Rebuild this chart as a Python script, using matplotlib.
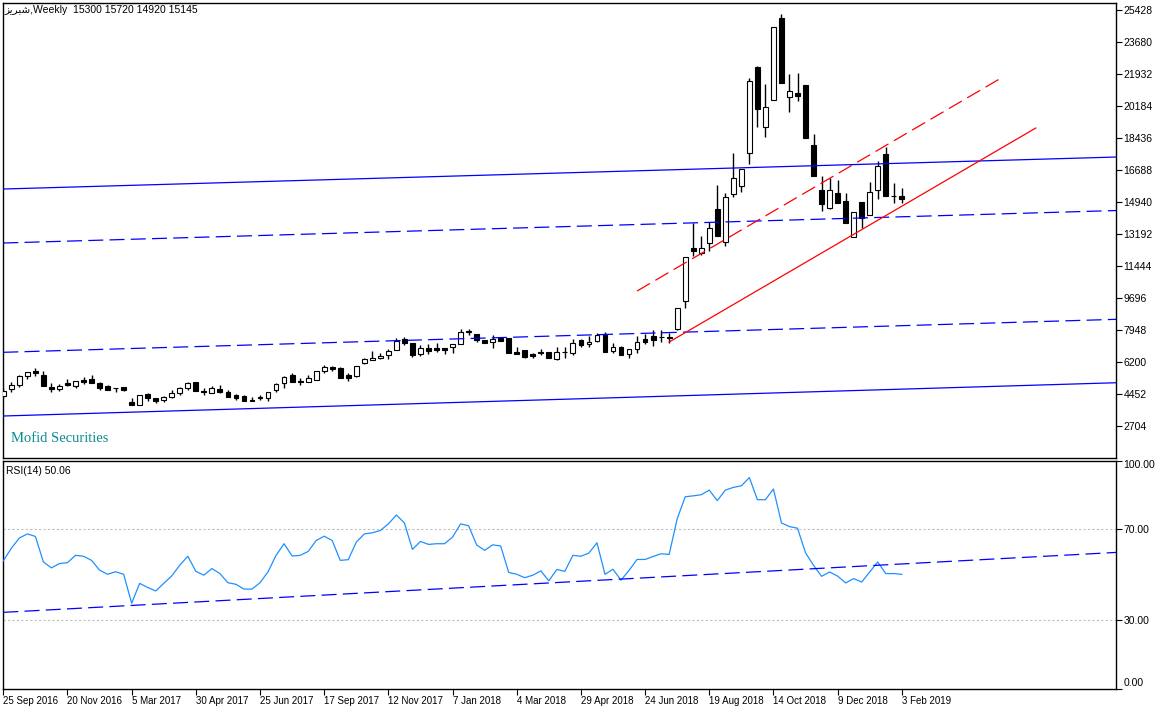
import matplotlib
matplotlib.use("Agg")
import matplotlib.pyplot as plt

# weekly candles (bar 0 = 25 Sep 2016)
opens = [4378, 4727, 4962, 5453, 5727, 5508, 4836, 4727, 5088, 4924,
         5235, 5290, 5088, 4907, 4814, 4836, 4050, 3870, 4470, 4268,
         4143, 4323, 4509, 4782, 5109, 4618, 4509, 4743, 4563, 4416,
         4378, 4126, 4323, 4268, 4689, 5055, 5508, 5164, 5142, 5235,
         5743, 5962, 5907, 5508, 5453, 6180, 6327, 6420, 6601, 6874,
         7458, 7240, 6655, 6966, 6999, 6999, 7054, 7201, 7895, 7731,
         7420, 7327, 7513, 7513, 6781, 6874, 6655, 6764, 6748, 6388,
         6792, 6693, 7420, 7185, 7382, 7731, 6803, 7060, 6639, 6912,
         7474, 7638, 7611, 7578, 8021, 9566, 12429, 12156, 12702, 14559,
         12756, 15394, 15831, 17617, 22315, 19070, 20529, 24991, 20676, 20895,
         21348, 18071, 15613, 14613, 15465, 15012, 13062, 14941, 14247, 15613,
         17563, 15312, 15300]
highs = [4798, 5109, 5508, 5688, 5874, 5727, 5055, 5033, 5290, 5180,
         5382, 5508, 5142, 4935, 4825, 4869, 4235, 4416, 4509, 4268,
         4378, 4689, 4869, 5142, 5142, 4782, 4907, 4962, 4689, 4454,
         4389, 4323, 4416, 4563, 5071, 5470, 5601, 5328, 5508, 5727,
         6054, 6000, 5945, 5601, 6027, 6437, 6835, 6693, 6928, 7523,
         7567, 7256, 7147, 7185, 7273, 7010, 7185, 8004, 8004, 7747,
         7431, 7693, 7529, 7529, 7054, 6885, 6726, 6928, 6764, 7021,
         7054, 7458, 7458, 7638, 7786, 7873, 7240, 7076, 6928, 7638,
         7747, 7966, 7966, 7818, 9151, 11937, 13794, 13100, 13849, 15886,
         15465, 17617, 16760, 21714, 22386, 21403, 24516, 25226, 21932, 22020,
         21359, 18671, 16394, 16252, 16159, 15465, 14395, 14958, 16034, 17213,
         17945, 16012, 15720]
lows = [4268, 4596, 4869, 5290, 5470, 4924, 4563, 4634, 4924, 4782,
        5000, 5055, 4672, 4662, 4596, 4651, 3870, 3853, 4104, 3962,
        4050, 4235, 4416, 4689, 4651, 4416, 4498, 4509, 4323, 4143,
        4088, 4088, 4143, 4088, 4580, 4814, 5109, 4962, 5109, 5224,
        5634, 5743, 5328, 5197, 5399, 6093, 6316, 6388, 6388, 6863,
        7147, 6508, 6546, 6655, 6781, 6639, 6693, 7191, 7693, 7327,
        7229, 6966, 7382, 6693, 6644, 6453, 6453, 6601, 6453, 6327,
        6420, 6601, 7054, 7054, 7294, 6781, 6726, 6601, 6453, 6726,
        7201, 7109, 7327, 7240, 7966, 9195, 12008, 12063, 12298, 13117,
        12570, 15214, 15520, 17016, 19037, 18524, 20518, 21441, 19889, 20490,
        18437, 16394, 14482, 14602, 14886, 13794, 13051, 13521, 14236, 15105,
        15302, 14886, 14920]
closes = [4634, 4962, 5453, 5656, 5601, 4924, 4727, 4907, 4962, 5180,
          5142, 5055, 4814, 4689, 4804, 4689, 3870, 4416, 4235, 4088,
          4290, 4541, 4782, 5055, 4651, 4580, 4814, 4563, 4323, 4268,
          4088, 4115, 4235, 4563, 5000, 5415, 5109, 5126, 5328, 5727,
          5962, 5819, 5328, 5328, 5999, 6388, 6453, 6546, 6835, 7382,
          7240, 6601, 6966, 6835, 6874, 6874, 7185, 7873, 7857, 7420,
          7240, 7458, 7382, 6693, 6655, 6508, 6546, 6732, 6453, 6748,
          6764, 7240, 7147, 7311, 7676, 6781, 7021, 6601, 6928, 7327,
          7327, 7420, 7589, 7556, 9151, 11937, 12298, 12429, 13521, 13117,
          15247, 16252, 16743, 21566, 20021, 20130, 24500, 21441, 21020, 20763,
          18437, 16394, 14832, 15613, 14886, 13794, 14395, 14067, 15487, 16924,
          15302, 15291, 15145]

rsi = [56.0, 61.5, 66.0, 67.8, 66.7, 55.5, 52.9, 54.8, 55.2, 58.4,
       58.0, 56.2, 51.9, 50.1, 51.2, 50.1, 37.4, 46.1, 44.3, 42.8,
       46.1, 49.4, 54.1, 58.0, 51.4, 49.7, 52.6, 50.4, 46.4, 45.7,
       43.6, 43.6, 46.4, 51.2, 58.4, 63.5, 58.1, 58.4, 60.1, 64.9,
       66.8, 64.9, 56.2, 56.5, 64.2, 67.8, 68.3, 69.3, 72.2, 76.1,
       72.6, 61.0, 64.5, 63.2, 63.5, 63.5, 66.4, 72.2, 71.4, 63.0,
       60.6, 63.0, 62.5, 50.9, 50.1, 48.6, 49.7, 51.6, 47.2, 52.2,
       51.4, 58.4, 58.0, 59.4, 63.9, 50.1, 52.3, 47.5, 51.8, 56.6,
       56.6, 57.9, 59.1, 58.8, 74.4, 84.1, 84.5, 85.0, 87.0, 82.4,
       87.0, 88.2, 88.9, 92.5, 82.8, 82.8, 87.5, 72.6, 71.0, 70.3,
       59.5, 54.0, 49.2, 51.1, 49.3, 46.3, 48.2, 46.7, 51.1, 55.5,
       50.4, 50.4, 50.06]

date_labels = ['25 Sep 2016', '20 Nov 2016', '5 Mar 2017', '30 Apr 2017',
               '25 Jun 2017', '17 Sep 2017', '12 Nov 2017', '7 Jan 2018',
               '4 Mar 2018', '29 Apr 2018', '24 Jun 2018', '19 Aug 2018',
               '14 Oct 2018', '9 Dec 2018', '3 Feb 2019']
price_ticks = [25428, 23680, 21932, 20184, 18436, 16688, 14940,
               13192, 11444, 9696, 7948, 6200, 4452, 2704]
rsi_ticks = [0, 30, 70, 100]

# hand drawn objects: (bar, price) pairs
channel_solid = [((0.0, 15667), (138.8, 17415)), ((0.0, 3269), (138.8, 5087))]
channel_dash = [((0.0, 12718), (138.8, 14493)), ((0.0, 6748), (138.8, 8550))]
red_solid = ((83.0, 7310), (128.7, 18999))
red_dash = ((79.0, 10096), (124.6, 21785))
rsi_trend = ((0.0, 33.4), (138.8, 59.7))

plt.rcParams['font.family'] = ['Liberation Sans', 'DejaVu Sans']
plt.rcParams['font.size'] = 7

W, H = 1165, 709
fig = plt.figure(figsize=(W / 100, H / 100), dpi=100)
ax = fig.add_axes([2.5 / W, 1 - 458 / H, (1116 - 2.5) / W, (458 - 3) / H])
ax2 = fig.add_axes([2.5 / W, 1 - 688.5 / H, (1116 - 2.5) / W, (688.5 - 460.5) / H])

n = len(closes)
bars = list(range(n))

# candles
ax.vlines(bars, lows, highs, color='black', linewidth=1, zorder=2)
bottoms = [min(o, c) for o, c in zip(opens, closes)]
heights = [abs(c - o) for o, c in zip(opens, closes)]
colors = ['white' if c >= o else 'black' for o, c in zip(opens, closes)]
ax.bar(bars, heights, bottom=bottoms, width=0.6, color=colors,
       edgecolor='black', linewidth=0.8, zorder=3)

dash = (0, (12, 5))
for p1, p2 in channel_solid:
    ax.plot([p1[0], p2[0]], [p1[1], p2[1]], color='#0000ff', lw=0.9, zorder=4)
for p1, p2 in channel_dash:
    ax.plot([p1[0], p2[0]], [p1[1], p2[1]], color='#0000ff', lw=0.9,
            linestyle=dash, zorder=4)
ax.plot([red_solid[0][0], red_solid[1][0]], [red_solid[0][1], red_solid[1][1]],
        color='red', lw=0.9, zorder=4)
ax.plot([red_dash[0][0], red_dash[1][0]], [red_dash[0][1], red_dash[1][1]],
        color='red', lw=0.9, linestyle=dash, zorder=4)

ax.set_xlim(-0.1, 138.7)
ax.set_ylim(975, 25827)
ax.set_xticks([])
ax.yaxis.tick_right()
ax.set_yticks(price_ticks)
ax.set_yticklabels([str(t) for t in price_ticks], fontsize=7.5)
ax.tick_params(axis='y', direction='out', length=4, pad=1.5, width=0.8)

name = '\uFEB0\uFBFE\uFEAE\uFE92\uFEB7'  # شبریز in display order
ax.text(0.002, 0.995, name + ',Weekly  15300 15720 14920 15145',
        transform=ax.transAxes, ha='left', va='top', fontsize=7.5,
        family=['Liberation Sans', 'DejaVu Sans'])
ax.text(0.008, 0.043, 'Mofid Securities', transform=ax.transAxes,
        ha='left', va='center', fontsize=10.5, color='#0a8c8f',
        family='Liberation Serif')

# RSI pane
ax2.plot(bars, rsi, color='#1e90ff', lw=0.9, zorder=3)
ax2.axhline(70, color='#c0c0c0', lw=0.8, linestyle=(0, (2, 2)), zorder=1)
ax2.axhline(30, color='#c0c0c0', lw=0.8, linestyle=(0, (2, 2)), zorder=1)
ax2.plot([rsi_trend[0][0], rsi_trend[1][0]], [rsi_trend[0][1], rsi_trend[1][1]],
         color='#0000ff', lw=0.9, linestyle=dash, zorder=4)
ax2.set_xlim(-0.1, 138.7)
ax2.set_ylim(0, 100)
ax2.yaxis.tick_right()
ax2.set_yticks(rsi_ticks)
ax2.set_yticklabels(['%.2f' % t for t in rsi_ticks], fontsize=7.5)
ax2.tick_params(axis='y', direction='out', length=4, pad=1.5, width=0.8)
labs = ax2.get_yticklabels()
labs[0].set_va('bottom')
labs[-1].set_va('top')
ax2.set_xticks(list(range(0, n, 8)))
ax2.set_xticklabels(date_labels, ha='left')
ax2.tick_params(axis='x', direction='out', length=4, pad=1.5, width=0.8)
ax2.text(0.003, 0.975, 'RSI(14) 50.06', transform=ax2.transAxes,
         ha='left', va='top', fontsize=7.5)

for a in (ax, ax2):
    for s in a.spines.values():
        s.set_linewidth(1)

fig.savefig('out.png', dpi=100, facecolor='white')
